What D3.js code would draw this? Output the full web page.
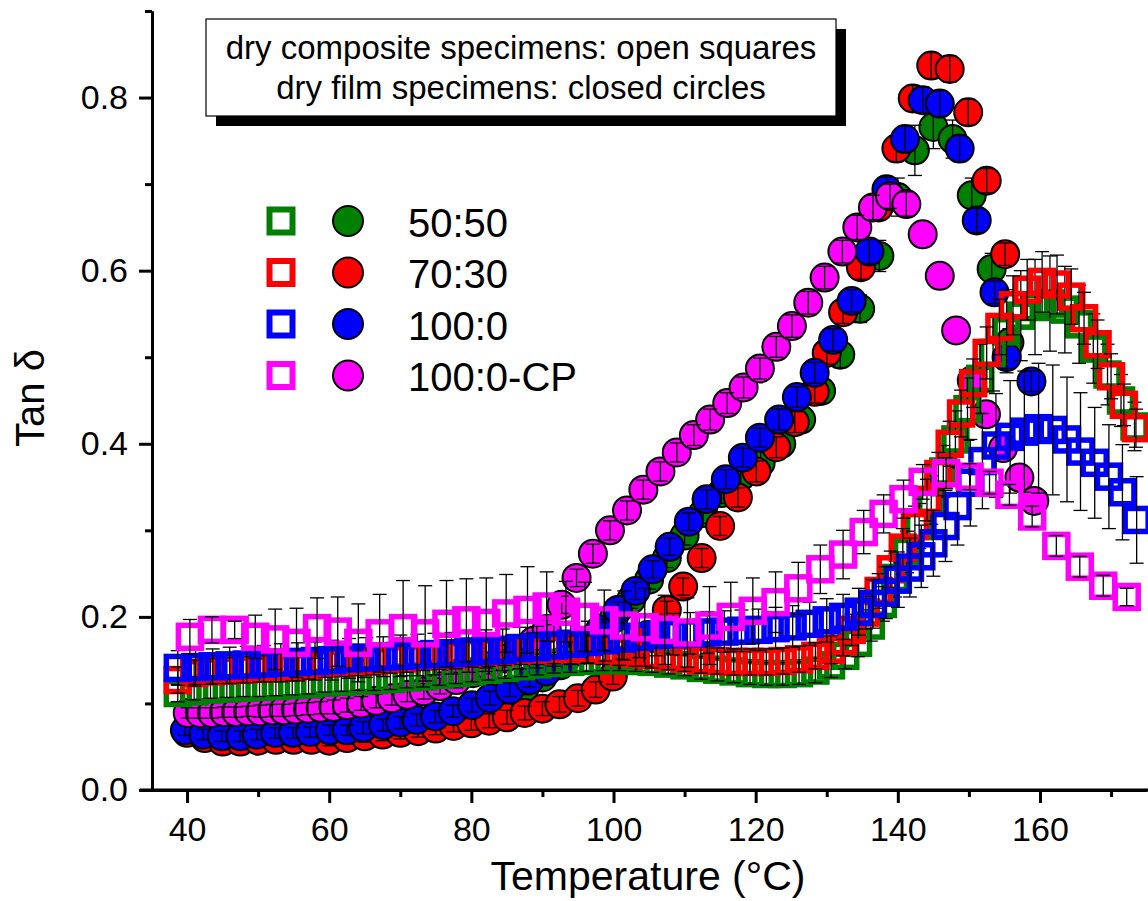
<!DOCTYPE html>
<html>
<head>
<meta charset="utf-8">
<script src="https://d3js.org/d3.v7.min.js"></script>
<style>
  body { margin: 0; background: #fff; }
  svg { display: block; }
</style>
</head>
<body>
<svg id="chart" width="1148" height="901"></svg>
<script>
// rows: [temperature (°C), tan delta, error]
// dry film specimens (closed circles)
const film5050 = [[40.0,0.067,0.006],[42.5,0.062,0.006],[45.0,0.060,0.006],[47.5,0.060,0.006],[50.0,0.061,0.006],[52.5,0.062,0.006],[55.0,0.063,0.006],[57.5,0.064,0.006],[60.0,0.065,0.006],[62.5,0.067,0.006],[65.0,0.069,0.007],[67.5,0.072,0.007],[70.0,0.075,0.007],[72.5,0.078,0.007],[75.0,0.082,0.007],[77.5,0.087,0.007],[80.0,0.093,0.008],[82.5,0.100,0.008],[85.0,0.108,0.008],[87.5,0.118,0.008],[90.0,0.130,0.009],[92.5,0.144,0.009],[95.0,0.160,0.009],[97.5,0.178,0.010],[100.0,0.198,0.010],[102.5,0.220,0.010],[105.0,0.243,0.011],[107.5,0.268,0.011],[110.0,0.294,0.011],[112.6,0.320,0.012],[115.2,0.343,0.012],[117.9,0.362,0.012],[120.7,0.378,0.013],[123.6,0.400,0.013],[126.4,0.428,0.014],[129.2,0.461,0.014],[131.9,0.503,0.015],[134.7,0.556,0.016],[137.4,0.617,0.018],[140.0,0.685,0.022],[142.4,0.739,0.029],[145.0,0.766,0.025],[147.7,0.752,0.022],[150.4,0.687,0.020],[153.2,0.602,0.018],[155.7,0.517,0.016]];
const film7030 = [[40.0,0.066,0.006],[42.5,0.060,0.006],[45.0,0.056,0.006],[47.5,0.056,0.006],[50.0,0.057,0.006],[52.5,0.058,0.006],[55.0,0.058,0.006],[57.5,0.058,0.006],[60.0,0.057,0.006],[62.5,0.060,0.006],[65.0,0.062,0.007],[67.5,0.064,0.007],[70.0,0.066,0.007],[72.5,0.068,0.007],[75.0,0.071,0.007],[77.5,0.074,0.007],[80.0,0.077,0.008],[82.5,0.080,0.008],[85.0,0.084,0.008],[87.5,0.089,0.008],[90.0,0.094,0.008],[92.4,0.099,0.009],[95.0,0.106,0.009],[97.5,0.116,0.009],[99.9,0.131,0.009],[102.3,0.153,0.010],[104.8,0.179,0.010],[107.5,0.208,0.010],[109.8,0.235,0.010],[112.4,0.268,0.011],[115.0,0.305,0.011],[117.5,0.338,0.011],[120.1,0.368,0.012],[122.9,0.396,0.012],[125.5,0.425,0.012],[128.3,0.460,0.013],[130.0,0.505,0.013],[132.3,0.552,0.013],[134.8,0.604,0.014],[137.3,0.673,0.014],[139.8,0.741,0.015],[142.1,0.799,0.015],[144.7,0.837,0.015],[147.3,0.833,0.015],[149.9,0.783,0.015],[152.5,0.704,0.014],[155.1,0.619,0.013]];
const film1000 = [[39.7,0.069,0.006],[42.3,0.064,0.006],[44.9,0.062,0.006],[47.5,0.062,0.006],[49.8,0.064,0.006],[52.4,0.066,0.006],[54.9,0.066,0.006],[57.3,0.067,0.006],[60.1,0.069,0.006],[62.5,0.069,0.006],[64.8,0.072,0.007],[67.6,0.075,0.007],[70.0,0.078,0.007],[72.3,0.081,0.007],[74.9,0.085,0.007],[77.4,0.091,0.007],[80.1,0.098,0.008],[82.6,0.106,0.008],[85.4,0.116,0.008],[88.2,0.127,0.008],[90.6,0.137,0.008],[93.2,0.151,0.009],[95.7,0.166,0.009],[98.1,0.185,0.009],[100.6,0.208,0.009],[103.1,0.230,0.010],[105.5,0.255,0.010],[107.9,0.281,0.010],[110.6,0.310,0.010],[113.1,0.336,0.011],[115.8,0.359,0.011],[118.2,0.384,0.011],[120.6,0.407,0.011],[123.3,0.428,0.012],[125.8,0.454,0.012],[128.3,0.482,0.012],[130.9,0.520,0.013],[133.5,0.565,0.013],[136.0,0.622,0.014],[138.4,0.694,0.014],[141.0,0.752,0.015],[143.5,0.797,0.015],[145.9,0.793,0.015],[148.7,0.741,0.015],[151.1,0.658,0.014],[153.6,0.575,0.013],[155.3,0.500,0.013],[158.8,0.472,0.012]];
const filmCP = [[40.1,0.089,0.006],[41.8,0.089,0.006],[43.5,0.089,0.006],[45.2,0.090,0.006],[46.9,0.090,0.006],[48.6,0.091,0.006],[50.3,0.091,0.007],[52.0,0.092,0.007],[53.6,0.092,0.007],[55.3,0.093,0.007],[57.0,0.094,0.007],[58.8,0.095,0.007],[60.6,0.096,0.008],[62.5,0.098,0.008],[64.5,0.100,0.008],[66.6,0.103,0.008],[68.8,0.106,0.008],[71.0,0.110,0.008],[73.3,0.114,0.009],[75.6,0.120,0.009],[77.9,0.127,0.009],[80.2,0.135,0.009],[82.5,0.143,0.009],[84.7,0.152,0.010],[86.7,0.161,0.010],[88.7,0.172,0.010],[90.6,0.186,0.010],[92.7,0.214,0.010],[94.8,0.245,0.010],[97.1,0.273,0.011],[99.5,0.300,0.011],[101.9,0.323,0.011],[104.2,0.347,0.011],[106.6,0.368,0.011],[108.9,0.390,0.011],[111.3,0.410,0.012],[113.6,0.428,0.012],[116.0,0.447,0.012],[118.3,0.465,0.012],[120.6,0.487,0.012],[122.9,0.512,0.012],[125.1,0.536,0.013],[127.4,0.563,0.013],[129.7,0.592,0.013],[132.2,0.622,0.013],[134.3,0.650,0.014],[136.5,0.673,0.014],[138.9,0.686,0.014],[141.2,0.677,0.014],[143.5,0.642,0],[145.9,0.594,0],[148.2,0.531,0],[150.4,0.473,0],[152.4,0.434,0],[154.8,0.395,0],[157.1,0.361,0],[159.2,0.334,0]];

// dry composite specimens (open squares)
const comp5050 = [[38.7,0.112,0.010],[41.0,0.114,0.010],[43.3,0.116,0.010],[45.6,0.117,0.010],[47.9,0.118,0.010],[50.2,0.119,0.011],[52.5,0.120,0.011],[54.8,0.121,0.011],[57.1,0.122,0.011],[59.4,0.124,0.011],[61.7,0.125,0.011],[64.0,0.126,0.011],[66.3,0.127,0.012],[68.6,0.128,0.012],[70.9,0.130,0.012],[73.2,0.131,0.012],[75.5,0.133,0.012],[77.8,0.135,0.012],[80.1,0.137,0.012],[82.4,0.139,0.012],[84.7,0.141,0.012],[87.0,0.143,0.012],[89.3,0.145,0.012],[91.6,0.147,0.012],[93.9,0.148,0.012],[96.2,0.149,0.012],[98.5,0.150,0.012],[100.8,0.150,0.012],[103.1,0.149,0.012],[105.4,0.148,0.012],[107.7,0.146,0.012],[110.0,0.144,0.012],[112.3,0.141,0.013],[114.6,0.139,0.013],[116.9,0.137,0.013],[119.2,0.135,0.013],[121.5,0.134,0.013],[123.8,0.134,0.013],[126.1,0.135,0.013],[128.4,0.138,0.014],[130.6,0.144,0.014],[132.6,0.155,0.015],[134.4,0.170,0.016],[136.2,0.190,0.018],[137.9,0.215,0.020],[139.6,0.245,0.022],[141.3,0.275,0.024],[143.0,0.305,0.026],[144.7,0.335,0.028],[146.4,0.368,0.030],[148.1,0.405,0.033],[149.8,0.440,0.036],[151.6,0.475,0.040],[153.4,0.505,0.044],[155.3,0.530,0.048],[157.3,0.548,0.052],[159.3,0.558,0.055],[161.4,0.562,0.055],[163.5,0.555,0.050],[165.5,0.538,0.045],[167.5,0.510,0.040],[169.5,0.480,0.035],[171.4,0.450,0.030],[173.3,0.420,0.028]];
const comp7030 = [[38.7,0.127,0.015],[41.0,0.135,0.015],[43.3,0.137,0.015],[45.6,0.138,0.015],[47.9,0.139,0.015],[50.2,0.140,0.015],[52.5,0.141,0.016],[54.8,0.142,0.016],[57.1,0.144,0.016],[59.4,0.146,0.016],[61.7,0.147,0.016],[64.0,0.148,0.016],[66.3,0.149,0.016],[68.6,0.151,0.016],[70.9,0.152,0.016],[73.2,0.154,0.016],[75.5,0.155,0.016],[77.8,0.156,0.016],[80.1,0.158,0.016],[82.4,0.159,0.016],[84.7,0.160,0.016],[87.0,0.161,0.016],[89.3,0.161,0.016],[91.6,0.162,0.016],[93.9,0.162,0.016],[96.2,0.162,0.016],[98.5,0.161,0.016],[100.8,0.160,0.016],[103.1,0.158,0.015],[105.4,0.156,0.015],[107.7,0.154,0.015],[110.0,0.152,0.015],[112.3,0.150,0.015],[114.6,0.149,0.015],[116.9,0.148,0.015],[119.2,0.148,0.015],[121.5,0.148,0.015],[123.8,0.149,0.015],[126.1,0.151,0.015],[128.4,0.155,0.015],[130.6,0.162,0.016],[132.3,0.172,0.017],[133.5,0.185,0.018],[135.5,0.205,0.019],[137.3,0.230,0.020],[139.0,0.255,0.021],[140.7,0.280,0.022],[142.4,0.305,0.023],[144.1,0.335,0.024],[145.7,0.365,0.025],[147.3,0.400,0.026],[148.9,0.435,0.027],[150.6,0.470,0.028],[152.5,0.505,0.030],[154.3,0.535,0.032],[156.2,0.560,0.034],[158.2,0.578,0.035],[160.3,0.587,0.035],[162.4,0.584,0.034],[164.4,0.570,0.032],[166.2,0.545,0.030],[168.1,0.515,0.028],[170.0,0.478,0.026],[171.8,0.445,0.024],[173.5,0.418,0.022]];
const comp1000 = [[38.7,0.141,0.020],[41.2,0.142,0.020],[43.6,0.143,0.020],[46.0,0.144,0.021],[48.4,0.145,0.021],[50.8,0.146,0.021],[53.2,0.147,0.022],[55.6,0.148,0.022],[58.0,0.149,0.022],[60.4,0.150,0.023],[62.8,0.152,0.023],[65.2,0.153,0.023],[67.6,0.154,0.023],[70.0,0.155,0.024],[72.4,0.156,0.024],[74.8,0.157,0.024],[77.2,0.158,0.024],[79.6,0.160,0.024],[82.0,0.161,0.024],[84.4,0.162,0.024],[86.8,0.164,0.024],[89.2,0.165,0.024],[91.6,0.167,0.024],[94.0,0.169,0.024],[96.4,0.171,0.024],[98.8,0.173,0.024],[101.2,0.175,0.024],[103.6,0.177,0.024],[106.0,0.179,0.024],[108.4,0.180,0.024],[110.8,0.181,0.024],[113.2,0.182,0.024],[115.6,0.183,0.024],[118.0,0.184,0.024],[120.4,0.185,0.024],[122.8,0.187,0.024],[125.2,0.189,0.024],[127.6,0.192,0.025],[130.0,0.196,0.025],[132.3,0.200,0.026],[134.5,0.206,0.027],[136.5,0.215,0.028],[138.3,0.228,0.030],[140.0,0.243,0.032],[141.7,0.257,0.034],[143.3,0.270,0.036],[145.0,0.285,0.038],[146.7,0.305,0.041],[148.4,0.328,0.045],[150.2,0.355,0.050],[151.9,0.380,0.055],[153.8,0.398,0.060],[155.8,0.408,0.065],[157.8,0.414,0.070],[159.8,0.418,0.075],[161.8,0.416,0.075],[163.8,0.405,0.072],[165.7,0.391,0.068],[167.7,0.378,0.064],[169.7,0.362,0.060],[171.6,0.344,0.055],[173.6,0.312,0.050]];
const compCP = [[40.4,0.177,0.020],[43.5,0.185,0.015],[46.7,0.185,0.010],[49.6,0.177,0.025],[52.4,0.174,0.035],[55.4,0.170,0.040],[58.3,0.187,0.035],[61.2,0.183,0.040],[64.1,0.170,0.045],[67.1,0.181,0.045],[70.4,0.187,0.055],[73.5,0.181,0.055],[76.5,0.192,0.050],[79.3,0.196,0.048],[82.1,0.193,0.052],[84.9,0.204,0.045],[87.9,0.208,0.050],[90.6,0.212,0.040],[93.3,0.206,0.035],[96.0,0.200,0.040],[98.7,0.196,0.035],[101.5,0.190,0.040],[104.4,0.188,0.045],[107.2,0.185,0.040],[110.4,0.182,0.040],[113.5,0.190,0.045],[116.5,0.200,0.040],[119.6,0.207,0.038],[122.8,0.217,0.035],[126.0,0.233,0.030],[129.1,0.255,0.028],[132.3,0.272,0.028],[135.2,0.298,0.025],[138.0,0.319,0.022],[140.8,0.336,0.022],[143.5,0.356,0.020],[146.8,0.366,0.018],[150.1,0.362,0.015],[152.9,0.355,0.013],[155.7,0.341,0.012],[158.9,0.316,0.012],[162.3,0.282,0.012],[165.6,0.258,0.012],[168.9,0.236,0.012],[172.2,0.223,0.010]];

const seriesNames = ['50:50', '70:30', '100:0', '100:0-CP'];
const seriesColors = ['#008000', '#ff0000', '#0000ff', '#ff00ff'];
const filmSeries = [film5050, film7030, film1000, filmCP];
const compSeries = [comp5050, comp7030, comp1000, compCP];

const xMajor = [40, 60, 80, 100, 120, 140, 160];
const xMinor = [50, 70, 90, 110, 130, 150, 170];
const yMajor = [0, 0.2, 0.4, 0.6, 0.8];
const yMinor = [0.1, 0.3, 0.5, 0.7, 0.9];

const noteLines = ['dry composite specimens: open squares', 'dry film specimens: closed circles'];

const FONT = "'Liberation Sans', Arial, sans-serif";
const svg = d3.select('#chart');

const x = d3.scaleLinear().domain([35, 175]).range([151.5, 1146.6]);
const y = d3.scaleLinear().domain([0, 0.9]).range([790, 11]);

/****************** 데이터 ******************/
function drawErrors(g, data) {
  const eb = g.append('g').attr('stroke', '#000').attr('stroke-width', 1.3);
  data.filter(d => d[2] > 0).forEach(d => {
    const cx = x(d[0]);
    const lo = y(d[1] - d[2]);
    const hi = y(d[1] + d[2]);
    eb.append('line').attr('x1', cx).attr('x2', cx).attr('y1', lo).attr('y2', hi);
    eb.append('line').attr('x1', cx - 7).attr('x2', cx + 7).attr('y1', lo).attr('y2', lo);
    eb.append('line').attr('x1', cx - 7).attr('x2', cx + 7).attr('y1', hi).attr('y2', hi);
  });
}

const plot = svg.append('g');

filmSeries.forEach((data, i) => {
  const g = plot.append('g');
  g.selectAll('circle')
    .data(data)
    .join('circle')
    .attr('cx', d => x(d[0]))
    .attr('cy', d => y(d[1]))
    .attr('r', 14)
    .attr('fill', seriesColors[i])
    .attr('stroke', '#000')
    .attr('stroke-width', 2);
  drawErrors(g, data);
});

compSeries.forEach((data, i) => {
  const g = plot.append('g');
  g.selectAll('rect')
    .data(data)
    .join('rect')
    .attr('x', d => x(d[0]) - 11.5)
    .attr('y', d => y(d[1]) - 11.5)
    .attr('width', 23)
    .attr('height', 23)
    .attr('fill', 'none')
    .attr('stroke', seriesColors[i])
    .attr('stroke-width', 5.5);
  drawErrors(g, data);
});

/****************** 축 ******************/
function styleAxis(g) {
  g.select('.domain').attr('stroke-width', 3);
  g.selectAll('.tick line').attr('stroke-width', 3);
  g.selectAll('.tick text')
    .attr('font-family', FONT)
    .attr('font-size', '34px');
}

svg.append('g')
  .attr('transform', 'translate(0,790)')
  .call(d3.axisBottom(x).tickValues(xMinor).tickSize(7).tickSizeOuter(0).tickFormat(''))
  .call(styleAxis);
svg.append('g')
  .attr('transform', 'translate(0,790)')
  .call(d3.axisBottom(x).tickValues(xMajor).tickSize(13).tickSizeOuter(0).tickPadding(14))
  .call(styleAxis);

svg.append('g')
  .attr('transform', 'translate(152,0)')
  .call(d3.axisLeft(y).tickValues(yMinor).tickSize(7).tickSizeOuter(0).tickFormat(''))
  .call(styleAxis);
svg.append('g')
  .attr('transform', 'translate(152,0)')
  .call(d3.axisLeft(y).tickValues(yMajor).tickSize(13).tickSizeOuter(0).tickPadding(11).tickFormat(d3.format('.1f')))
  .call(styleAxis);

svg.append('line')
  .attr('x1', 140).attr('x2', 1148)
  .attr('y1', 790).attr('y2', 790)
  .attr('stroke', '#000').attr('stroke-width', 3);

// axis titles
const xTitle = svg.append('text')
  .attr('x', 648).attr('y', 890)
  .attr('text-anchor', 'middle')
  .attr('font-family', FONT)
  .attr('font-size', '41px');
xTitle.append('tspan').text('Temperature (');
xTitle.append('tspan').text('°');
xTitle.append('tspan').text('C)');

svg.append('text')
  .attr('transform', 'translate(44,398) rotate(-90)')
  .attr('text-anchor', 'middle')
  .attr('font-family', FONT)
  .attr('font-size', '40px')
  .text('Tan δ');

/****************** 범례 ******************/
svg.append('rect')
  .attr('x', 216).attr('y', 29).attr('width', 630).attr('height', 97)
  .attr('fill', '#000');
svg.append('rect')
  .attr('x', 206).attr('y', 19).attr('width', 630).attr('height', 97)
  .attr('fill', '#fff').attr('stroke', '#000').attr('stroke-width', 1.2);

noteLines.forEach((t, i) => {
  svg.append('text')
    .text(t)
    .attr('x', 521).attr('y', 58.5 + i * 40)
    .attr('text-anchor', 'middle')
    .attr('font-family', FONT)
    .attr('font-size', '33px');
});

seriesNames.forEach((name, i) => {
  const cy = 221 + i * 51.5;
  svg.append('rect')
    .attr('x', 281 - 11.5).attr('y', cy - 11.5)
    .attr('width', 23).attr('height', 23)
    .attr('fill', 'none')
    .attr('stroke', seriesColors[i])
    .attr('stroke-width', 6);
  svg.append('circle')
    .attr('cx', 348).attr('cy', cy).attr('r', 15)
    .attr('fill', seriesColors[i])
    .attr('stroke', '#000').attr('stroke-width', 2);
  svg.append('text')
    .text(name)
    .attr('x', 408).attr('y', cy + 15.5)
    .attr('font-family', FONT)
    .attr('font-size', '40px');
});
</script>
</body>
</html>
